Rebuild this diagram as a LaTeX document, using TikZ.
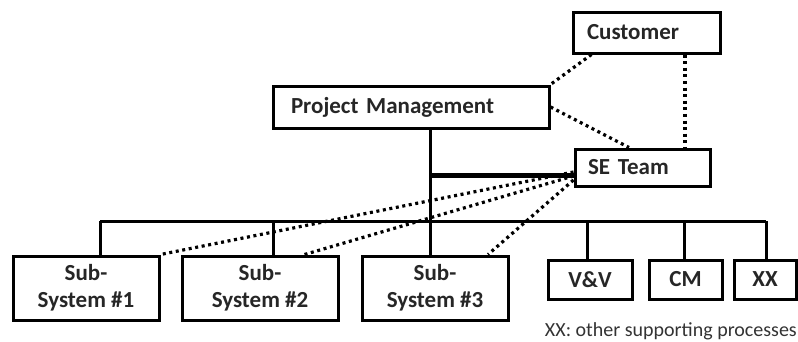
\documentclass[tikz,border=0pt]{standalone}
\usepackage{fontspec}
\setmainfont{Carlito}
\usetikzlibrary{calc}
\begin{document}
\begin{tikzpicture}[x=1pt,y=-1pt,
  box/.style={draw, line width=3pt, inner sep=0pt, font=\fontsize{23}{27}\selectfont\bfseries, text=black!85},
  lbox/.style args={#1/#2/#3}{box, minimum height=#2, text width=#1-2*#3, inner xsep=#3, align=left},
  cbox/.style args={#1/#2}{box, minimum width=#1, minimum height=#2, align=center},
  tree/.style={line width=3pt},
  link/.style={line width=3.2pt, dash pattern=on 3pt off 3.6pt}]
\useasboundingbox (0,0) rectangle (798,341);

% upper management level
\node[lbox=147/41/14] (cust) at (646.5,32.5) {Customer};
\node[lbox=276/42/18] (pm) at (411,107) {Project Management};
\node[lbox=135/37/13] (se) at (642.5,167.5) {SE Team};

% subsystems and supporting processes
\node[cbox=146/64] (ss1) at (86,288) {Sub-\\System \#1};
\node[cbox=156/64] (ss2) at (260,288) {Sub-\\System \#2};
\node[cbox=146/64] (ss3) at (435,288) {Sub-\\System \#3};
\node[cbox=84/39] (vv) at (590,279.5) {V\&V};
\node[cbox=73/39] (cm) at (685.5,279.5) {CM};
\node[cbox=62/39] (xx) at (765,279.5) {XX};

\node[anchor=base east, font=\fontsize{20}{24}\selectfont, text=black!80, inner sep=0pt] (note) at (797,336) {XX: other supporting processes};

% bus taps
\coordinate (b1) at (100,221);
\coordinate (b2) at (273,221);
\coordinate (b4) at (587,221);
\coordinate (b5) at (684,221);
\coordinate (b6) at (766,221);
\coordinate (pmdrop) at (430,128);

% solid reporting lines
\draw[tree] (b1) -- (b6);
\draw[tree] (b1) -- (b1 |- ss1.north);
\draw[tree] (b2) -- (b2 |- ss2.north);
\draw[tree] (b4) -- (b4 |- vv.north);
\draw[tree] (b5) -- (b5 |- cm.north);
\draw[tree] (b6) -- (b6 |- xx.north);
\draw[tree] (pmdrop) -- (pmdrop |- ss3.north);
\draw[line width=5pt] (pmdrop |- 0,175) -- ($(se.west)+(0,7.5)$);

% dotted coordination links
\draw[link] ($(cust.south west)+(20,0)$) -- (pm.north east);
\draw[link] ($(cust.south)+(38.5,0)$) -- ($(se.north)+(42.5,0)$);
\draw[link] (pm.east) -- ($(se.north)+(-13.5,0)$);
\draw[link] ($(se.west)+(0,4.5)$) -- (ss1.north east);
\draw[link] ($(se.west)+(0,8.5)$) -- ($(ss2.north east)+(-35,0)$);
\draw[link] ($(se.west)+(0,12.5)$) -- ($(ss3.north)+(53,0)$);
\end{tikzpicture}
\end{document}
